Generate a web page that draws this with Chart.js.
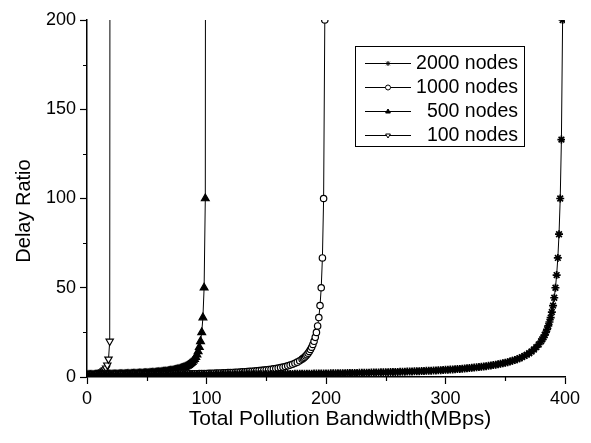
<!DOCTYPE html>
<html>
<head>
<meta charset="utf-8">
<script src="https://cdn.jsdelivr.net/npm/chart.js@4.4.0/dist/chart.umd.min.js"></script>
<style>
  body { margin: 0; background: #fff; }
  #wrap { width: 591px; height: 443px; position: relative; }
</style>
</head>
<body>
<div id="wrap"><canvas id="myChart"></canvas></div>
<script>
// Values (x in MBps, y = delay ratio)
const x2000 = [0,2,4,6,8,10,12,14,16,18,20,22,24,26,28,30,32,34,36,38,40,42,44,46,48,50,52,54,56,58,60,62,64,66,68,70,72,74,76,78,80,82,84,86,88,90,92,94,96,98,
    100,102,104,106,108,110,112,114,116,118,120,122,124,126,128,130,132,134,136,138,140,142,144,146,148,150,152,154,156,158,160,162,164,166,168,170,172,174,176,178,180,182,184,186,188,190,192,194,196,198,
    200,202,204,206,208,210,212,214,216,218,220,222,224,226,228,230,232,234,236,238,240,242,244,246,248,250,252,254,256,258,260,262,264,266,268,270,272,274,276,278,280,282,284,286,288,290,292,294,296,298,
    300,302,304,306,308,310,312,314,316,318,320,322,324,326,328,330,332,334,336,338,340,342,344,346,348,350,352,354,356,358,360,362,364,366,368,370,372,374,376,378,380,
    381,382,383,384,385,386,387,388,389,390,391,392,393,394,395,396,397,398];
const y2000 = [1.00,1.01,1.01,1.02,1.02,1.03,1.03,1.04,1.04,1.05,1.05,1.06,1.06,1.07,1.08,1.08,1.09,1.09,1.10,1.10,1.11,1.12,1.12,1.13,1.14,1.14,1.15,1.16,1.16,1.17,1.18,1.18,1.19,1.20,1.20,1.21,1.22,1.23,1.23,1.24,1.25,1.26,1.27,1.27,1.28,1.29,1.30,1.31,1.32,1.32,
    1.33,1.34,1.35,1.36,1.37,1.38,1.39,1.40,1.41,1.42,1.43,1.44,1.45,1.46,1.47,1.48,1.49,1.50,1.52,1.53,1.54,1.55,1.56,1.57,1.59,1.60,1.61,1.63,1.64,1.65,1.67,1.68,1.69,1.71,1.72,1.74,1.75,1.77,1.79,1.80,1.82,1.83,1.85,1.87,1.89,1.90,1.92,1.94,1.96,1.98,
    2.00,2.02,2.04,2.06,2.08,2.11,2.13,2.15,2.17,2.20,2.22,2.25,2.27,2.30,2.33,2.35,2.38,2.41,2.44,2.47,2.50,2.53,2.56,2.60,2.63,2.67,2.70,2.74,2.78,2.82,2.86,2.90,2.94,2.99,3.03,3.08,3.13,3.17,3.23,3.28,3.33,3.39,3.45,3.51,3.57,3.64,3.70,3.77,3.85,3.92,
    4.00,4.08,4.17,4.26,4.35,4.44,4.55,4.65,4.76,4.88,5.00,5.13,5.26,5.41,5.56,5.71,5.88,6.06,6.25,6.45,6.67,6.90,7.14,7.41,7.69,8.00,8.33,8.70,9.09,9.52,10.0,10.5,11.1,11.8,12.5,13.3,14.3,15.4,16.7,18.2,20.0,
    21.1,22.2,23.5,25.0,26.7,28.6,30.8,33.3,36.4,40.0,44.4,50.0,57.1,66.7,80.0,100,133,200];

const x1000 = [0,2,4,6,8,10,12,14,16,18,20,22,24,26,28,30,32,34,36,38,40,42,44,46,48,50,52,54,56,58,60,62,64,66,68,70,72,74,76,78,80,82,84,86,88,90,92,94,96,98,
    100,102,104,106,108,110,112,114,116,118,120,122,124,126,128,130,132,134,136,138,140,142,144,146,148,150,152,154,156,158,160,162,164,166,168,170,172,174,176,178,180,
    181,182,183,184,185,186,187,188,189,190,191,192,193,194,195,196,197,198,199];
const y1000 = [1.00,1.01,1.02,1.03,1.04,1.05,1.06,1.08,1.09,1.10,1.11,1.12,1.14,1.15,1.16,1.18,1.19,1.20,1.22,1.23,1.25,1.27,1.28,1.30,1.32,1.33,1.35,1.37,1.39,1.41,1.43,1.45,1.47,1.49,1.52,1.54,1.56,1.59,1.61,1.64,1.67,1.69,1.72,1.75,1.79,1.82,1.85,1.89,1.92,1.96,
    2.00,2.04,2.08,2.13,2.17,2.22,2.27,2.33,2.38,2.44,2.50,2.56,2.63,2.70,2.78,2.86,2.94,3.03,3.13,3.23,3.33,3.45,3.57,3.70,3.85,4.00,4.17,4.35,4.55,4.76,5.00,5.26,5.56,5.88,6.25,6.67,7.14,7.69,8.33,9.09,10.0,
    10.5,11.1,11.8,12.5,13.3,14.3,15.4,16.7,18.2,20.0,22.2,25.0,28.6,33.3,40.0,50.0,66.7,100,200];

const x500 = [0,1,2,3,4,5,6,7,8,9,10,11,12,13,14,15,16,17,18,19,20,21,22,23,24,25,26,27,28,29,30,31,32,33,34,35,36,37,38,39,40,41,42,43,44,45,46,47,48,49,
    50,51,52,53,54,55,56,57,58,59,60,61,62,63,64,65,66,67,68,69,70,71,72,73,74,75,76,77,78,79,80,81,82,83,84,85,86,87,88,89,90,91,92,93,94,95,96,97,98,99,99.9];
const y500 = [1.00,1.01,1.02,1.03,1.04,1.05,1.06,1.08,1.09,1.10,1.11,1.12,1.14,1.15,1.16,1.18,1.19,1.20,1.22,1.23,1.25,1.27,1.28,1.30,1.32,1.33,1.35,1.37,1.39,1.41,1.43,1.45,1.47,1.49,1.52,1.54,1.56,1.59,1.61,1.64,1.67,1.69,1.72,1.75,1.79,1.82,1.85,1.89,1.92,1.96,
    2.00,2.04,2.08,2.13,2.17,2.22,2.27,2.33,2.38,2.44,2.50,2.56,2.63,2.70,2.78,2.86,2.94,3.03,3.13,3.23,3.33,3.45,3.57,3.70,3.85,4.00,4.17,4.35,4.55,4.76,5.00,5.26,5.56,5.88,6.25,6.67,7.14,7.69,8.33,9.09,
    10.0,11.1,12.5,14.3,16.7,20.0,25.0,33.3,50.0,100,1000];

const x100 = [0,1,2,3,4,5,6,7,8,9,10,11,12,13,14,15,16,17,18,19,19.98];
const y100 = [1.00,1.05,1.11,1.18,1.25,1.33,1.43,1.54,1.67,1.82,2.00,2.22,2.50,2.86,3.33,4.00,5.00,6.67,10.0,20.0,1000];

const seriesNames = ['2000 nodes', '1000 nodes', '500 nodes', '100 nodes'];
const xTicks = [0, 100, 200, 300, 400];
const yTicks = [0, 50, 100, 150, 200];
const xMinor = [50, 150, 250, 350];
const yMinor = [25, 75, 125, 175];

const FONT = "'Liberation Sans', Arial, sans-serif";

function pts(xs, ys) {
    return xs.map((x, i) => ({ x: x, y: ys[i] }));
}

// marker drawing, used for the legend box
function drawMarker(ctx, ds, x, y, r) {
    ctx.save();
    ctx.strokeStyle = '#000';
    ctx.fillStyle = ds.pointBackgroundColor;
    ctx.lineWidth = 1;
    ctx.beginPath();
    if (ds.pointStyle === 'circle') {
        ctx.arc(x, y, r, 0, Math.PI * 2);
        ctx.fill();
        ctx.stroke();
    } else if (ds.pointStyle === 'triangle') {
        const s = ds.pointRotation === 180 ? -1 : 1;
        ctx.moveTo(x, y - s * r);
        ctx.lineTo(x + r * 0.95, y + s * r * 0.6);
        ctx.lineTo(x - r * 0.95, y + s * r * 0.6);
        ctx.closePath();
        ctx.fill();
        ctx.stroke();
    } else {
        for (let k = 0; k < 4; k++) {
            const a = k * Math.PI / 4;
            ctx.moveTo(x - Math.cos(a) * r, y - Math.sin(a) * r);
            ctx.lineTo(x + Math.cos(a) * r, y + Math.sin(a) * r);
        }
        ctx.stroke();
    }
    ctx.restore();
}

const extras = {
    id: 'extras',
    afterDraw(chart) {
        const ctx = chart.ctx;
        const xs = chart.scales.x, ys = chart.scales.y;
        const area = chart.chartArea;
        ctx.save();
        // minor ticks
        ctx.strokeStyle = '#000';
        ctx.lineWidth = 1.2;
        ctx.beginPath();
        xMinor.forEach(v => {
            const px = Math.round(xs.getPixelForValue(v)) + 0.5;
            ctx.moveTo(px, area.bottom);
            ctx.lineTo(px, area.bottom + 4);
        });
        yMinor.forEach(v => {
            const py = Math.round(ys.getPixelForValue(v)) + 0.5;
            ctx.moveTo(area.left - 4, py);
            ctx.lineTo(area.left, py);
        });
        ctx.stroke();

        // axis titles
        ctx.fillStyle = '#000';
        ctx.font = '21px ' + FONT;
        ctx.textAlign = 'center';
        ctx.textBaseline = 'middle';
        ctx.fillText('Total Pollution Bandwidth(MBps)', 340, 419);
        ctx.save();
        ctx.translate(24, 211);
        ctx.rotate(-Math.PI / 2);
        ctx.font = '20px ' + FONT;
        ctx.fillText('Delay Ratio', 0, 0);
        ctx.restore();

        // legend box
        const bx = 355, by = 46, bw = 169, bh = 100;
        ctx.fillStyle = '#fff';
        ctx.fillRect(bx, by, bw, bh);
        ctx.strokeStyle = '#000';
        ctx.lineWidth = 1;
        ctx.strokeRect(bx + 0.5, by + 0.5, bw, bh);
        ctx.font = '19.5px ' + FONT;
        ctx.textAlign = 'right';
        ctx.textBaseline = 'middle';
        chart.data.datasets.forEach((ds, i) => {
            const ry = by + 17 + i * 24;
            ctx.beginPath();
            ctx.moveTo(365, ry + 0.5);
            ctx.lineTo(411, ry + 0.5);
            ctx.stroke();
            drawMarker(ctx, ds, 388, ry + 0.5, 2.5);
            ctx.fillStyle = '#000';
            ctx.fillText(ds.label, 518, ry + 1);
        });
        ctx.restore();
    }
};

const baseSet = {
    borderColor: '#000',
    borderWidth: 1,
    pointBorderColor: '#000',
    pointBorderWidth: 1.2,
    fill: false,
    tension: 0
};

const ctx = document.getElementById('myChart').getContext('2d');
const myChart = new Chart(ctx, {
    type: 'line',
    data: {
        datasets: [
            Object.assign({}, baseSet, { label: seriesNames[0], data: pts(x2000, y2000), pointStyle: 'star', pointRadius: 4, pointBorderWidth: 1.7, pointBackgroundColor: '#000' }),
            Object.assign({}, baseSet, { label: seriesNames[1], data: pts(x1000, y1000), pointStyle: 'circle', pointRadius: 3.2, pointBackgroundColor: '#fff' }),
            Object.assign({}, baseSet, { label: seriesNames[2], data: pts(x500, y500), pointStyle: 'triangle', pointRadius: 4.5, pointBackgroundColor: '#000' }),
            Object.assign({}, baseSet, { label: seriesNames[3], data: pts(x100, y100), pointStyle: 'triangle', pointRotation: 180, pointRadius: 4.2, pointBackgroundColor: '#fff' })
        ]
    },
    options: {
        responsive: true,
        maintainAspectRatio: false,
        animation: false,
        layout: { padding: { top: 20, right: 26, left: 0, bottom: 0 } },
        plugins: { legend: { display: false }, tooltip: { enabled: false } },
        scales: {
            x: {
                type: 'linear',
                min: 0,
                max: 400,
                afterFit: s => { s.height = 66; },
                afterBuildTicks: s => { s.ticks = xTicks.map(v => ({ value: v })); },
                ticks: { color: '#000', font: { family: FONT, size: 18 }, padding: 4, maxRotation: 0 },
                grid: { drawOnChartArea: false, drawTicks: true, tickLength: 7, tickColor: '#000', tickWidth: 1.2 },
                border: { display: true, color: '#000', width: 1.5 }
            },
            y: {
                type: 'linear',
                min: 0,
                max: 200,
                afterFit: s => { s.width = 87; },
                afterBuildTicks: s => { s.ticks = yTicks.map(v => ({ value: v })); },
                ticks: { color: '#000', font: { family: FONT, size: 18 }, padding: 4 },
                grid: { drawOnChartArea: false, drawTicks: true, tickLength: 7, tickColor: '#000', tickWidth: 1.2 },
                border: { display: true, color: '#000', width: 1.5 }
            }
        }
    },
    plugins: [extras]
});
</script>
</body>
</html>
